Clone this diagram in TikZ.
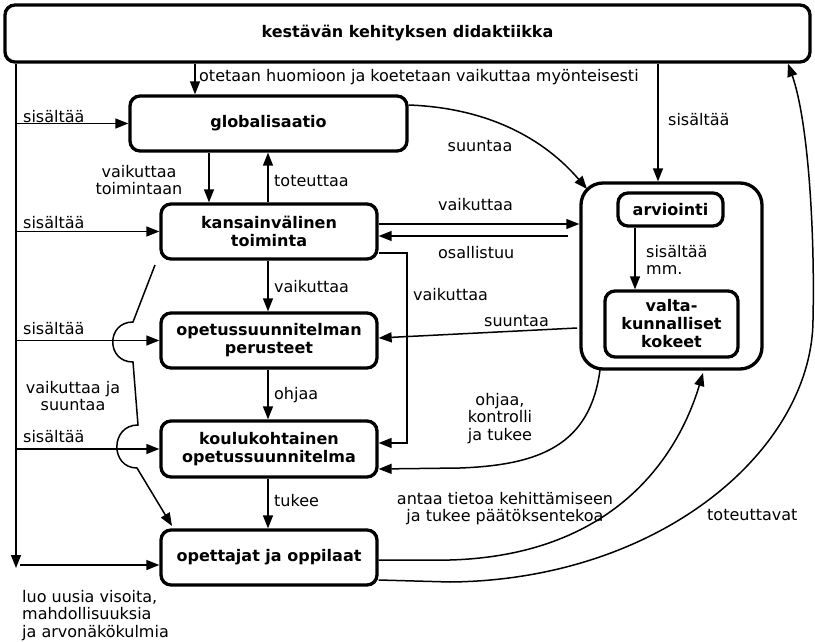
\documentclass[tikz,border=0pt]{standalone}
\usepackage{fontspec}
\setmainfont{DejaVu Sans}
\usetikzlibrary{arrows.meta}
\begin{document}
\begin{tikzpicture}[x=1pt,y=-1pt,
  box/.style={draw, line width=3.3pt, rounded corners=10pt, font=\bfseries\fontsize{16}{18}\selectfont, align=center, inner sep=0pt},
  arr/.style={line width=1.5pt, -{Triangle[length=13pt,width=10pt]}},
  ln/.style={line width=1.5pt},
  lbl/.style={font=\fontsize{16}{17.5}\selectfont, inner sep=0pt}]
\useasboundingbox (0,0) rectangle (815,642);
% boxes
\node[box, minimum width=805pt, minimum height=57pt] (top) at (407.5,33.5) {kestävän kehityksen didaktiikka};
\node[box, minimum width=277pt, minimum height=55pt] (glob) at (268.5,123.5) {globalisaatio};
\node[box, minimum width=216pt, minimum height=55pt] (kans) at (269,231.5) {kansainvälinen\\toiminta};
\node[box, minimum width=216pt, minimum height=55pt] (ops) at (269,340.5) {opetussuunnitelman\\perusteet};
\node[box, minimum width=216pt, minimum height=56pt] (koulu) at (269,449) {koulukohtainen\\opetussuunnitelma};
\node[box, minimum width=216pt, minimum height=55pt] (opet) at (269,557.5) {opettajat ja oppilaat};
\node[box, minimum width=181pt, minimum height=186pt, rounded corners=22pt] (outer) at (671.5,276) {};
\node[box, minimum width=105pt, minimum height=33pt] (arv) at (670.5,209.5) {arviointi};
\node[box, minimum width=133pt, minimum height=66pt] (valta) at (671.5,324) {valta-\\kunnalliset\\kokeet};
% helper coordinates
\coordinate (xA) at (195,0);
\coordinate (xL) at (16,0);
\coordinate (Lend) at (16,568);
\coordinate (xB) at (209,0);
\coordinate (xC) at (268,0);
\coordinate (xD) at (658,0);
\coordinate (yG) at (0,105);
\coordinate (oc) at (587,189);
\coordinate (yV) at (0,224);
\coordinate (os) at (568,236);
\coordinate (yK) at (0,253);
\coordinate (xK) at (407,0);
\coordinate (yK2) at (0,443);
\coordinate (su) at (577,328);
\coordinate (yS) at (0,338);
\coordinate (xM) at (635,0);
\coordinate (oo) at (600,370);
\coordinate (yO) at (0,469);
\coordinate (yA) at (0,560);
\coordinate (ain) at (703,373);
\coordinate (yT) at (0,580);
\coordinate (xT) at (788,0);
\coordinate (bs) at (20,565);
\coordinate (h0) at (155,265);
\coordinate (h1) at (133,322);
\coordinate (h2) at (133,362);
\coordinate (h3) at (138,425);
\coordinate (h4) at (137,468);
\coordinate (h5) at (172,526);
% connectors
\draw[arr] (top.south -| xA) -- (glob.north -| xA);
\draw[arr] (top.south -| xL) -- (Lend);
\draw[arr] (xL |- glob.west) -- (glob.west);
\draw[arr] (xL |- kans.west) -- (kans.west);
\draw[arr] (xL |- ops.west) -- (ops.west);
\draw[arr] (xL |- koulu.west) -- (koulu.west);
\draw[arr] (bs) -- (opet.west |- bs);
\draw[arr] (glob.south -| xB) -- (kans.north -| xB);
\draw[arr] (kans.north -| xC) -- (glob.south -| xC);
\draw[arr] (kans.south -| xC) -- (ops.north -| xC);
\draw[arr] (ops.south -| xC) -- (koulu.north -| xC);
\draw[arr] (koulu.south -| xC) -- (opet.north -| xC);
\draw[arr] (top.south -| xD) -- (outer.north -| xD);
\draw[arr] (glob.east |- yG) .. controls (490,108) and (545,140) .. (oc);
\draw[arr] (kans.east |- yV) -- (outer.west |- yV);
\draw[arr] (os) -- (kans.east |- os);
\draw[arr] (kans.east |- yK) -| (xK |- yK2) -- (koulu.east |- yK2);
\draw[arr] (su) -- (ops.east |- yS);
\draw[arr] (arv.south -| xM) -- (valta.north -| xM);
\draw[arr] (oo) .. controls (590,445) and (540,465) .. (460,468) -- (koulu.east |- yO);
\draw[arr] (opet.east |- yA) -- (450,560) .. controls (620,555) and (680,450) .. (ain);
\draw[arr] (opet.east |- yT) -- (450,582) .. controls (660,580) and (812,450) .. (813,320) .. controls (815,230) and (808,120) .. (top.south -| xT);
\draw[arr] (h0) -- (h1) .. controls (106,322) and (106,362) .. (h2) -- (h3) .. controls (110,425) and (110,468) .. (h4) -- (h5);
% labels
\node[lbl, anchor=base west] (l1) at (199,82) {otetaan huomioon ja koetetaan vaikuttaa myönteisesti};
\node[lbl, anchor=base west] (s1) at (23,122) {sisältää};
\node[lbl, anchor=base west] (s2) at (23,228) {sisältää};
\node[lbl, anchor=base west] (s3) at (23,334) {sisältää};
\node[lbl, anchor=base west] (s4) at (23,442) {sisältää};
\node[lbl, anchor=north, align=center] (l2) at (139,165) {vaikuttaa\\toimintaan};
\node[lbl, anchor=base west] (l3) at (274,186) {toteuttaa};
\node[lbl, anchor=base] (l4) at (480,152) {suuntaa};
\node[lbl, anchor=base west] (l5) at (668,126) {sisältää};
\node[lbl, anchor=base west] (l6) at (438,210) {vaikuttaa};
\node[lbl, anchor=base west] (l7) at (438,258) {osallistuu};
\node[lbl, anchor=base west] (l8) at (413,300) {vaikuttaa};
\node[lbl, anchor=base west] (l9) at (484,326) {suuntaa};
\node[lbl, anchor=north west, align=left] (l10) at (646,245) {sisältää\\mm.};
\node[lbl, anchor=base west] (l11) at (274,292) {vaikuttaa};
\node[lbl, anchor=base west] (l12) at (274,399) {ohjaa};
\node[lbl, anchor=base west] (l13) at (274,506) {tukee};
\node[lbl, anchor=north, align=center] (l14) at (73,381) {vaikuttaa ja\\suuntaa};
\node[lbl, anchor=north west, align=left] (l15) at (22,590) {luo uusia visoita,\\mahdollisuuksia\\ja arvonäkökulmia};
\node[lbl, anchor=north, align=center] (l16) at (500,393) {ohjaa,\\kontrolli\\ja tukee};
\node[lbl, anchor=north, align=center] (l17) at (505,492) {antaa tietoa kehittämiseen\\ja tukee päätöksentekoa};
\node[lbl, anchor=base west] (l18) at (707,520) {toteuttavat};
\end{tikzpicture}
\end{document}
